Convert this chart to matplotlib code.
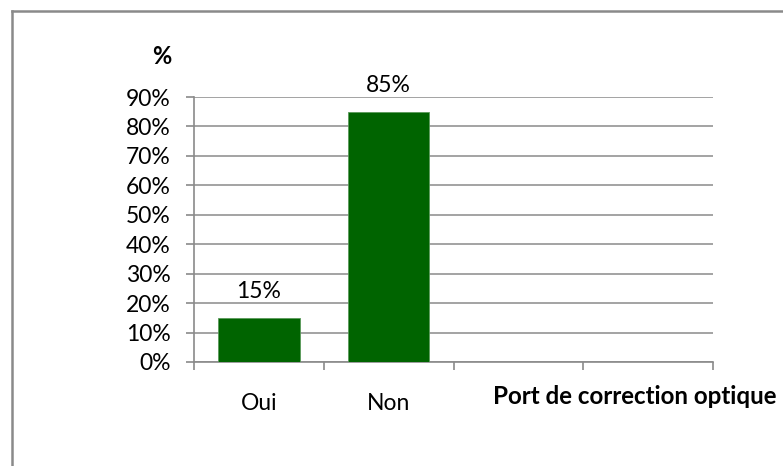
import numpy as np
import matplotlib
matplotlib.use("Agg")
import matplotlib.pyplot as plt
from matplotlib.lines import Line2D

categories = ["Oui", "Non", "", ""]
values = [0.15, 0.85]
value_labels = ["15%", "85%"]
yticks = [0.0, 0.1, 0.2, 0.3, 0.4, 0.5, 0.6, 0.7, 0.8, 0.9]
ytick_labels = ["0%", "10%", "20%", "30%", "40%", "50%", "60%", "70%", "80%", "90%"]

plt.rcParams['font.family'] = ['Lato', 'DejaVu Sans']

grey = '#8a8a8a'
green = '#006400'

fig = plt.figure(figsize=(7.83, 4.66), dpi=100)
ax = fig.add_axes([194/783, 1-362/466, (713-194)/783, (362-97)/466])

x = np.arange(len(values))
bars = ax.bar(x, values, width=0.63, color=green, edgecolor='#5a9a5a', linewidth=0.6, zorder=3)

for xi, v, lab in zip(x, values, value_labels):
    ax.annotate(lab, (xi, v), xytext=(0, 19), textcoords='offset points',
                ha='center', va='center', fontsize=16.5)

ax.set_xlim(-0.5, len(categories) - 0.5)
ax.set_ylim(0, 0.9)

# category boundaries as ticks, names in the middle
ax.set_xticks(np.arange(len(categories) + 1) - 0.5)
ax.set_xticklabels([])
ax.set_xticks(np.arange(len(categories)), minor=True)
ax.set_xticklabels(categories, minor=True, fontsize=16.5)
ax.tick_params(axis='x', which='major', length=6, width=1.2, color=grey, direction='out')
ax.tick_params(axis='x', which='minor', length=0, pad=22)

ax.set_yticks(yticks)
ax.set_yticklabels(ytick_labels, fontsize=16.5)
ax.tick_params(axis='y', length=6, width=1.2, color=grey, pad=11)

ax.grid(axis='y', color=grey, linewidth=1.1, zorder=0)
for s in ['top', 'right']:
    ax.spines[s].set_visible(False)
for s in ['left', 'bottom']:
    ax.spines[s].set_color(grey)
    ax.spines[s].set_linewidth(1.2)

fig.text(161.7/783, 1-56.7/466, "%", fontsize=17, fontweight='bold', ha='center', va='center')
fig.text(493/783, 1-397/466, "Port de correction optique", fontsize=17.4, fontweight='bold',
         ha='left', va='center')

# chart area border (only top and left visible)
fig.add_artist(Line2D([12/783, 12/783], [0, 1-11/466], color=grey, linewidth=1.8))
fig.add_artist(Line2D([12/783, 1], [1-11/466, 1-11/466], color=grey, linewidth=1.8))

fig.savefig("out.png", dpi=100)
